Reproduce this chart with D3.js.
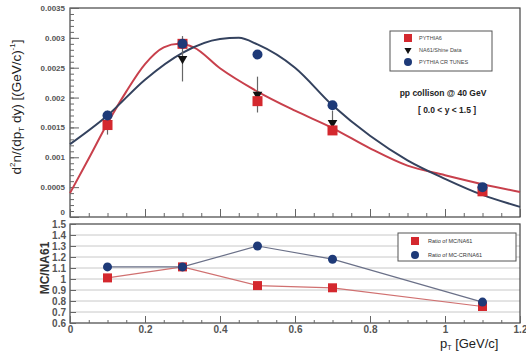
<!DOCTYPE html>
<html>
<head>
<meta charset="utf-8">
<script src="https://d3js.org/d3.v7.min.js"></script>
<style>
  body { margin: 0; background: #fff; }
  svg { display: block; font-family: "Liberation Sans", Arial, sans-serif; }
  .tick text { fill: #555; font-weight: bold; }
  .domain { display: none; }
</style>
</head>
<body>
<script>
// spectra points at the NA61 pT bins
var ptBins = [0.1, 0.3, 0.5, 0.7, 1.1];
var pythia6 = [0.00154, 0.0029, 0.00194, 0.00145, 0.00043];
var na61 = [0.00158, 0.00265, 0.00205, 0.00158, 0.0005];
var na61Err = [0.0002, 0.00038, 0.0003, 0.0002, 0.00007];
var pythiaCR = [0.0017, 0.0029, 0.00272, 0.00187, 0.0005];

// fitted curves
var redCurveX = [0, 0.05, 0.1, 0.15, 0.2, 0.25, 0.29, 0.33, 0.4, 0.5, 0.6, 0.7, 0.8, 0.9, 1.0, 1.1, 1.2];
var redCurveY = [0.0004, 0.00098, 0.00157, 0.0021, 0.00256, 0.00284, 0.0029, 0.00284, 0.00249, 0.0021, 0.00178, 0.00149, 0.00115, 0.00086, 0.0007, 0.00055, 0.00042];
var blueCurveX = [0, 0.1, 0.2, 0.3, 0.4, 0.45, 0.5, 0.6, 0.7, 0.8, 0.9, 1.0, 1.1, 1.2];
var blueCurveY = [0.00122, 0.0017, 0.0023, 0.00275, 0.00298, 0.003, 0.00289, 0.0025, 0.00187, 0.00136, 0.00095, 0.00064, 0.00037, 0.00017];

// ratios
var ratioMC = [1.01, 1.11, 0.94, 0.92, 0.75];
var ratioCR = [1.11, 1.11, 1.30, 1.18, 0.79];

var legendTop = ["PYTHIA6", "NA61/Shine Data", "PYTHIA CR TUNES"];
var legendBottom = ["Ratio of MC/NA61", "Ratio of MC-CR/NA61"];

var RED = "#d4282e", BLUE = "#1e3a78", REDLINE = "#c8404c", BLUELINE = "#34425e";

var W = 526, H = 353;
var svg = d3.select("body").append("svg").attr("width", W).attr("height", H);

var x = d3.scaleLinear().domain([0, 1.2]).range([70, 520]);
var yTop = d3.scaleLinear().domain([0, 0.0035]).range([217, 8]);
var yBot = d3.scaleLinear().domain([0.6, 1.5]).range([323, 224]);

function fmt(d) { return String(+d.toFixed(4)); }

// ---- top panel ----
var topG = svg.append("g");
topG.append("rect").attr("x", 70).attr("y", 8).attr("width", 450).attr("height", 209)
  .attr("fill", "none").attr("stroke", "#444").attr("stroke-width", 1.2);

topG.append("g").attr("transform", "translate(70,0)")
  .call(d3.axisLeft(yTop).tickValues(d3.range(0, 0.00351, 0.0001)).tickSize(-4).tickFormat(""))
  .selectAll("line").attr("stroke", "#666");
topG.append("g").attr("transform", "translate(70,0)")
  .call(d3.axisLeft(yTop).tickValues(d3.range(0, 0.00351, 0.0005)).tickSize(-9).tickPadding(5).tickFormat(fmt))
  .call(function(g) {
    g.selectAll("text").attr("font-size", 8)
      .attr("dy", function(d) { return d === 0 ? "-0.3em" : "0.32em"; });
    g.selectAll("line").attr("stroke", "#666");
  });
topG.append("g").attr("transform", "translate(0,217)")
  .call(d3.axisBottom(x).tickValues(d3.range(0, 1.201, 0.05)).tickSize(-4).tickFormat(""))
  .selectAll("line").attr("stroke", "#666");
topG.append("g").attr("transform", "translate(0,217)")
  .call(d3.axisBottom(x).tickValues(d3.range(0, 1.201, 0.2)).tickSize(-8).tickFormat(""))
  .selectAll("line").attr("stroke", "#666");

var line = d3.line().curve(d3.curveMonotoneX);
topG.append("path")
  .attr("d", line(redCurveX.map(function(v, i) { return [x(v), yTop(redCurveY[i])]; })))
  .attr("fill", "none").attr("stroke", REDLINE).attr("stroke-width", 2);
topG.append("path")
  .attr("d", line(blueCurveX.map(function(v, i) { return [x(v), yTop(blueCurveY[i])]; })))
  .attr("fill", "none").attr("stroke", BLUELINE).attr("stroke-width", 2);

// error bars
ptBins.forEach(function(p, i) {
  topG.append("line").attr("x1", x(p)).attr("x2", x(p))
    .attr("y1", yTop(na61[i] - na61Err[i])).attr("y2", yTop(na61[i] + na61Err[i]))
    .attr("stroke", "#666").attr("stroke-width", 1.2);
});
var tri = d3.symbol().type(d3.symbolTriangle).size(40);
topG.selectAll(".na61").data(ptBins).enter().append("path")
  .attr("d", tri)
  .attr("transform", function(d, i) { return "translate(" + x(d) + "," + yTop(na61[i]) + ") rotate(180)"; })
  .attr("fill", "#111");
topG.selectAll(".py6").data(ptBins).enter().append("rect")
  .attr("x", function(d) { return x(d) - 5; })
  .attr("y", function(d, i) { return yTop(pythia6[i]) - 5; })
  .attr("width", 10).attr("height", 10).attr("fill", RED);
topG.selectAll(".cr").data(ptBins).enter().append("circle")
  .attr("cx", function(d) { return x(d); })
  .attr("cy", function(d, i) { return yTop(pythiaCR[i]); })
  .attr("r", 5).attr("fill", BLUE);

// top legend
topG.append("rect").attr("x", 390).attr("y", 31).attr("width", 102).attr("height", 40)
  .attr("fill", "#fff").attr("stroke", "#555").attr("stroke-width", 1);
legendTop.forEach(function(t, i) {
  var ly = 38 + i * 12;
  if (i === 0) topG.append("rect").attr("x", 404).attr("y", ly - 4).attr("width", 8).attr("height", 8).attr("fill", RED);
  if (i === 1) topG.append("path").attr("d", d3.symbol().type(d3.symbolTriangle).size(22))
    .attr("transform", "translate(408," + ly + ") rotate(180)").attr("fill", "#111");
  if (i === 2) topG.append("circle").attr("cx", 408).attr("cy", ly).attr("r", 4).attr("fill", BLUE);
  topG.append("text").attr("x", 419).attr("y", ly + 2).attr("font-size", 5.5).attr("fill", "#444").text(t);
});
topG.append("text").attr("x", 443).attr("y", 96).attr("text-anchor", "middle")
  .attr("font-size", 8.5).attr("font-weight", "bold").attr("fill", "#222").text("pp collison @ 40 GeV");
topG.append("text").attr("x", 447).attr("y", 113).attr("text-anchor", "middle")
  .attr("font-size", 8.5).attr("font-weight", "bold").attr("fill", "#222").text("[ 0.0 < y < 1.5 ]");

// top y title
var yt = topG.append("text").attr("transform", "translate(21,107) rotate(-90)")
  .attr("text-anchor", "middle").attr("font-size", 13.5).attr("fill", "#222");
yt.append("tspan").text("d");
yt.append("tspan").attr("font-size", 8).attr("dy", -6).text("2");
yt.append("tspan").attr("dy", 6).text("n/(dp");
yt.append("tspan").attr("font-size", 8).attr("dy", 3).text("T");
yt.append("tspan").attr("dy", -3).text(" dy) [(GeV/c)");
yt.append("tspan").attr("font-size", 8).attr("dy", -6).text("-1");
yt.append("tspan").attr("dy", 6).text("]");

// ---- bottom panel ----
var botG = svg.append("g");
botG.selectAll(".grid").data(d3.range(0.7, 1.45, 0.1)).enter().append("line")
  .attr("x1", 70).attr("x2", 520)
  .attr("y1", function(d) { return yBot(d); }).attr("y2", function(d) { return yBot(d); })
  .attr("stroke", "#c8c8c8").attr("stroke-width", 1);
botG.append("rect").attr("x", 70).attr("y", 224).attr("width", 450).attr("height", 99)
  .attr("fill", "none").attr("stroke", "#444").attr("stroke-width", 1.2);

botG.append("g").attr("transform", "translate(70,0)")
  .call(d3.axisLeft(yBot).tickValues(d3.range(0.6, 1.501, 0.1)).tickSize(-6).tickPadding(4)
    .tickFormat(function(d) { return String(+d.toFixed(1)); }))
  .call(function(g) {
    g.selectAll("text").attr("font-size", 10).attr("fill", "#444");
    g.selectAll("line").attr("stroke", "#666");
  });
botG.append("g").attr("transform", "translate(0,323)")
  .call(d3.axisBottom(x).tickValues(d3.range(0, 1.201, 0.05)).tickSize(-3).tickFormat(""))
  .selectAll("line").attr("stroke", "#666");
botG.append("g").attr("transform", "translate(0,323)")
  .call(d3.axisBottom(x).tickValues(d3.range(0, 1.201, 0.2)).tickSize(-7).tickPadding(3)
    .tickFormat(function(d) { return String(+d.toFixed(1)); }))
  .call(function(g) { g.selectAll("text").attr("font-size", 10).attr("fill", "#555"); g.selectAll("line").attr("stroke", "#666"); });

var lin = d3.line();
botG.append("path").attr("d", lin(ptBins.map(function(p, i) { return [x(p), yBot(ratioMC[i])]; })))
  .attr("fill", "none").attr("stroke", "#d07070").attr("stroke-width", 1.2);
botG.append("path").attr("d", lin(ptBins.map(function(p, i) { return [x(p), yBot(ratioCR[i])]; })))
  .attr("fill", "none").attr("stroke", "#6a7088").attr("stroke-width", 1.2);
botG.selectAll(".rmc").data(ptBins).enter().append("rect")
  .attr("x", function(d) { return x(d) - 4.5; })
  .attr("y", function(d, i) { return yBot(ratioMC[i]) - 4.5; })
  .attr("width", 9).attr("height", 9).attr("fill", RED);
botG.selectAll(".rcr").data(ptBins).enter().append("circle")
  .attr("cx", function(d) { return x(d); })
  .attr("cy", function(d, i) { return yBot(ratioCR[i]); })
  .attr("r", 4.5).attr("fill", BLUE);

// bottom legend
botG.append("rect").attr("x", 398).attr("y", 233).attr("width", 118).attr("height", 28)
  .attr("fill", "#fff").attr("stroke", "#555").attr("stroke-width", 1);
legendBottom.forEach(function(t, i) {
  var ly = 241 + i * 14;
  if (i === 0) botG.append("rect").attr("x", 411).attr("y", ly - 4).attr("width", 8).attr("height", 8).attr("fill", RED);
  else botG.append("circle").attr("cx", 415).attr("cy", ly).attr("r", 4).attr("fill", BLUE);
  botG.append("text").attr("x", 428).attr("y", ly + 2).attr("font-size", 5.5).attr("fill", "#333").text(t);
});

botG.append("text").attr("transform", "translate(49,268) rotate(-90)")
  .attr("text-anchor", "middle").attr("font-size", 12).attr("font-weight", "bold")
  .attr("fill", "#333").text("MC/NA61");

var xt = botG.append("text").attr("x", 440).attr("y", 348).attr("font-size", 13).attr("fill", "#222");
xt.append("tspan").text("p");
xt.append("tspan").attr("font-size", 7).attr("dy", 2).text("T");
xt.append("tspan").attr("dy", -2).text(" [GeV/c]");
</script>
</body>
</html>
